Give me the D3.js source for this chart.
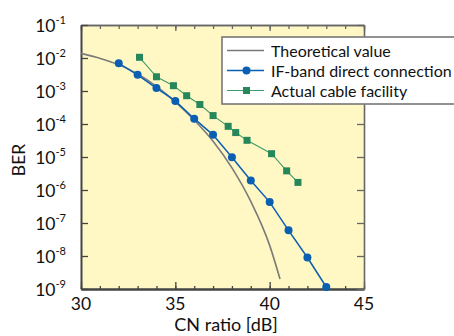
<!DOCTYPE html>
<html><head><meta charset="utf-8">
<script src="https://cdn.jsdelivr.net/npm/d3@7"></script>
<style>
html,body{margin:0;padding:0;background:#fff;}
svg text{font-family:Lato,"Liberation Sans",sans-serif;fill:#111;}
</style></head>
<body><svg id="c" width="454" height="336"></svg>
<script>
// ---- data ----
const theoryCN  = [30, 31, 32, 33, 34, 35, 36, 37, 38, 39, 40, 40.55];
const theoryBER = [1.38e-2, 9.8e-3, 6.3e-3, 3.3e-3, 1.38e-3, 4.7e-4, 1.32e-4, 3.0e-5, 4.7e-6, 4.5e-7, 2.1e-8, 2.0e-9];
const ifCN  = [32, 33, 34, 35, 36, 37, 38, 39, 40, 41, 42, 43];
const ifBER = [6.9e-3, 3.1e-3, 1.23e-3, 5.0e-4, 1.45e-4, 4.7e-5, 9.8e-6, 1.95e-6, 4.3e-7, 6.0e-8, 9.0e-9, 1.15e-9];
const cableCN  = [33.1, 34.0, 34.9, 35.6, 36.3, 37.0, 37.8, 38.2, 38.8, 40.1, 40.9, 41.5];
const cableBER = [1.05e-2, 2.7e-3, 1.45e-3, 7.2e-4, 3.9e-4, 1.8e-4, 8.5e-5, 5.5e-5, 3.2e-5, 1.26e-5, 3.8e-6, 1.7e-6];
const xMajorTicks = [30, 35, 40, 45];
const xMinorTicks = d3.range(30, 46, 1);
const yExponents = [-1, -2, -3, -4, -5, -6, -7, -8, -9];
const seriesNames = ["Theoretical value", "IF-band direct connection", "Actual cable facility"];
const xTitle = "CN ratio [dB]";
const yTitle = "BER";

// ---- layout ----
const L = 81, R = 364, T = 25, B = 289;
const svg = d3.select("#c");
const x = d3.scaleLinear().domain([30, 45]).range([L, R]);
const y = d3.scaleLog().domain([1e-9, 1e-1]).range([B, T]);

const cBlue = "#0b5fb3", cGreen = "#26875a", cGreenLine = "#3f9c6e", cGray = "#7a7a7a";

svg.append("rect").attr("x", L).attr("y", T).attr("width", R - L).attr("height", B - T).attr("fill", "#fff8c4");

const clipId = "plotclip";
svg.append("clipPath").attr("id", clipId).append("rect").attr("x", L).attr("y", T).attr("width", R - L).attr("height", B - T);

// axes (inward ticks)
const yTickVals = yExponents.map(e => Math.pow(10, e));
function styleAxis(g, color, w) {
  g.select(".domain").attr("stroke", color).attr("stroke-width", w);
  g.selectAll(".tick line").attr("stroke", color).attr("stroke-width", 1.3);
  g.selectAll(".tick text").remove();
}
const gbMin = svg.append("g").attr("transform", `translate(0,${B})`)
  .call(d3.axisBottom(x).tickValues(xMinorTicks).tickSize(-3).tickSizeOuter(0));
styleAxis(gbMin, "#444", 2);
const gbMaj = svg.append("g").attr("transform", `translate(0,${B})`)
  .call(d3.axisBottom(x).tickValues(xMajorTicks).tickSize(-7).tickSizeOuter(0));
styleAxis(gbMaj, "#444", 2);
const gtMin = svg.append("g").attr("transform", `translate(0,${T})`)
  .call(d3.axisTop(x).tickValues(xMinorTicks).tickSize(-4).tickSizeOuter(0));
styleAxis(gtMin, "#666", 1.6);
const gtMaj = svg.append("g").attr("transform", `translate(0,${T})`)
  .call(d3.axisTop(x).tickValues(xMajorTicks).tickSize(-6).tickSizeOuter(0));
styleAxis(gtMaj, "#666", 1.6);
const gl = svg.append("g").attr("transform", `translate(${L},0)`)
  .call(d3.axisLeft(y).tickValues(yTickVals).tickSize(-7).tickSizeOuter(0));
styleAxis(gl, "#444", 2);
const gr = svg.append("g").attr("transform", `translate(${R},0)`)
  .call(d3.axisRight(y).tickValues(yTickVals).tickSize(-7).tickSizeOuter(0));
styleAxis(gr, "#666", 1.6);

// x tick labels
svg.append("g").selectAll("text").data(xMajorTicks).join("text")
  .attr("x", d => x(d)).attr("y", B + 21).attr("text-anchor", "middle")
  .attr("font-size", 17.5).text(d => d);
// y tick labels
const yl = svg.append("g").selectAll("text").data(yExponents).join("text")
  .attr("x", 66).attr("y", d => y(Math.pow(10, d)) + 7).attr("text-anchor", "end").attr("font-size", 17.5);
yl.append("tspan").text("10");
yl.append("tspan").attr("dy", -8).attr("font-size", 11).text(d => "-" + Math.abs(d));

// titles
svg.append("text").attr("x", 226).attr("y", 331).attr("text-anchor", "middle").attr("font-size", 18).text(xTitle);
svg.append("text").attr("transform", `translate(25,160) rotate(-90)`).attr("text-anchor", "middle").attr("font-size", 17.5).text(yTitle);

// series
const plot = svg.append("g").attr("clip-path", `url(#${clipId})`);
const theory = theoryCN.map((c, i) => [c, theoryBER[i]]);
const ifd = ifCN.map((c, i) => [c, ifBER[i]]);
const cab = cableCN.map((c, i) => [c, cableBER[i]]);

plot.append("path").datum(theory).attr("fill", "none").attr("stroke", cGray).attr("stroke-width", 1.6)
  .attr("d", d3.line().x(d => x(d[0])).y(d => y(d[1])).curve(d3.curveMonotoneX));

plot.append("path").datum(cab).attr("fill", "none").attr("stroke", cGreenLine).attr("stroke-width", 1.1)
  .attr("d", d3.line().x(d => x(d[0])).y(d => y(d[1])));
svg.append("g").selectAll("rect").data(cab).join("rect")
  .attr("x", d => x(d[0]) - 3.5).attr("y", d => y(d[1]) - 3.5).attr("width", 7).attr("height", 7).attr("fill", cGreen);

plot.append("path").datum(ifd).attr("fill", "none").attr("stroke", cBlue).attr("stroke-width", 1.5)
  .attr("d", d3.line().x(d => x(d[0])).y(d => y(d[1])));
svg.append("g").selectAll("circle").data(ifd).join("circle")
  .attr("cx", d => x(d[0])).attr("cy", d => y(d[1])).attr("r", 4).attr("fill", cBlue);

// legend
const lg = svg.append("g");
lg.append("rect").attr("x", 222).attr("y", 37).attr("width", 240).attr("height", 67)
  .attr("fill", "#fff").attr("stroke", "#777").attr("stroke-width", 1.6);
const rows = [
  {name: seriesNames[0], color: cGray, w: 1.4, mark: null},
  {name: seriesNames[1], color: cBlue, w: 1.5, mark: "circle"},
  {name: seriesNames[2], color: cGreenLine, w: 1.1, mark: "square"}
];
rows.forEach((r, i) => {
  const yy = 50.5 + i * 20;
  lg.append("line").attr("x1", 227).attr("x2", 264).attr("y1", yy).attr("y2", yy).attr("stroke", r.color).attr("stroke-width", r.w);
  if (r.mark === "circle") lg.append("circle").attr("cx", 246.5).attr("cy", yy).attr("r", 4).attr("fill", cBlue);
  if (r.mark === "square") lg.append("rect").attr("x", 243).attr("y", yy - 3.5).attr("width", 7).attr("height", 7).attr("fill", cGreen);
  lg.append("text").attr("x", 271).attr("y", yy + 6).attr("font-size", 16).text(r.name);
});
</script></body></html>
